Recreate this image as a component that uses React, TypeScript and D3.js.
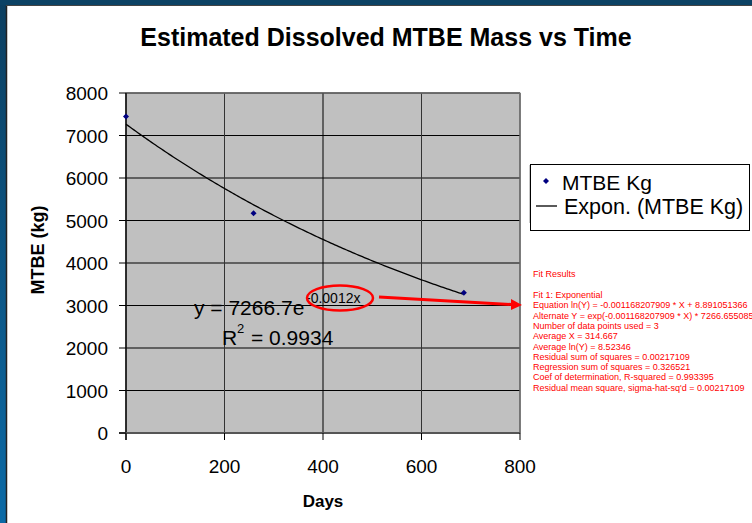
import React from "react";
import * as d3 from "d3";

const days = [0, 259, 686];
const mtbeKg = [7450, 5170, 3300];
const xTicks = [0, 200, 400, 600, 800];
const yTicks = [0, 1000, 2000, 3000, 4000, 5000, 6000, 7000, 8000];
const fitCoefA = 7266.655085;
const fitCoefB = -0.001168207909;
const fitLines = [
  "Fit 1: Exponential",
  "Equation ln(Y) = -0.001168207909 * X + 8.891051366",
  "Alternate Y = exp(-0.001168207909 * X) * 7266.655085",
  "Number of data points used = 3",
  "Average X = 314.667",
  "Average ln(Y) = 8.52346",
  "Residual sum of squares = 0.00217109",
  "Regression sum of squares = 0.326521",
  "Coef of determination, R-squared = 0.993395",
  "Residual mean square, sigma-hat-sq'd = 0.00217109",
];

const FONT = "'Liberation Sans', Arial, sans-serif";
const DIAMOND = "M0,-3L3,0L0,3L-3,0Z";

export default function App() {
  const W = 752, H = 523;
  const x = d3.scaleLinear().domain([0, 800]).range([126, 520]);
  const y = d3.scaleLinear().domain([0, 8000]).range([433, 93]);
  const pts = days.map((d, i) => ({ d, v: mtbeKg[i] }));
  const trendX = d3.range(0, 686 + 1, 4);
  const trend = d3
    .line<number>()
    .x((d) => x(d))
    .y((d) => y(fitCoefA * Math.exp(fitCoefB * d)))(trendX);

  return (
    <svg width={W} height={H} style={{ position: "absolute", left: 0, top: 0 }} fontFamily={FONT}>
      <defs>
        <linearGradient id="frameL" x1="0" y1="0" x2="0" y2="1">
          <stop offset="0" stopColor="#0c3f60" />
          <stop offset="1" stopColor="#0b6aa6" />
        </linearGradient>
      </defs>
      <rect x={0} y={0} width={W} height={H} fill="#ffffff" />
      <rect x={0} y={0} width={6} height={H} fill="url(#frameL)" />
      <rect x={0} y={0} width={W} height={5} fill="#0c4264" />
      <line x1={6.5} y1={5.5} x2={6.5} y2={H} stroke="#222" strokeWidth={1.5} />
      <line x1={6} y1={5.5} x2={W} y2={5.5} stroke="#444" strokeWidth={1} />

      <text x={386} y={46} textAnchor="middle" fontSize={25} fontWeight="bold" fill="#000">
        Estimated Dissolved MTBE Mass vs Time
      </text>

      {/* plot area */}
      <rect x={x(0)} y={y(8000)} width={x(800) - x(0)} height={y(0) - y(8000)} fill="#c0c0c0" stroke="#808080" strokeWidth={1} />
      {yTicks.map((t) => (
        <line key={"gy" + t} x1={x(0)} x2={x(800)} y1={y(t)} y2={y(t)} stroke="#000" strokeWidth={1} />
      ))}
      {xTicks.map((t) => (
        <line key={"gx" + t} x1={x(t)} x2={x(t)} y1={y(8000)} y2={y(0)} stroke={t === 400 ? "#000" : "#333"} strokeWidth={1} />
      ))}
      <line x1={x(800)} x2={x(800)} y1={y(8000)} y2={y(0)} stroke="#808080" />
      <line x1={x(0)} x2={x(800)} y1={y(8000)} y2={y(8000)} stroke="#808080" />
      {/* axes */}
      <line x1={x(0)} x2={x(0)} y1={y(8000)} y2={y(0) + 7} stroke="#000" strokeWidth={1.2} />
      <line x1={x(0) - 7} x2={x(800)} y1={y(0)} y2={y(0)} stroke="#555" strokeWidth={2} />
      {yTicks.map((t) => (
        <line key={"ty" + t} x1={x(0) - 7} x2={x(0)} y1={y(t)} y2={y(t)} stroke="#000" />
      ))}
      {xTicks.map((t) => (
        <line key={"tx" + t} x1={x(t)} x2={x(t)} y1={y(0)} y2={y(0) + 7} stroke="#000" />
      ))}
      {yTicks.map((t) => (
        <text key={"ly" + t} x={108} y={y(t) + 7} textAnchor="end" fontSize={19} fill="#000">
          {t}
        </text>
      ))}
      {xTicks.map((t) => (
        <text key={"lx" + t} x={x(t)} y={473} textAnchor="middle" fontSize={19} fill="#000">
          {t}
        </text>
      ))}
      <text x={323} y={507} textAnchor="middle" fontSize={17} fontWeight="bold" fill="#000">
        Days
      </text>
      <text transform={`translate(44,250) rotate(-90)`} textAnchor="middle" fontSize={18} fontWeight="bold" fill="#000">
        MTBE (kg)
      </text>

      {/* trendline */}
      <path d={trend ?? ""} fill="none" stroke="#000" strokeWidth={1.3} />
      {pts.map((p, i) => (
        <path key={"p" + i} d={DIAMOND} transform={`translate(${x(p.d)},${y(p.v)})`} fill="#000080" />
      ))}

      {/* equation */}
      <text x={194} y={315} fontSize={21} fill="#000">y = 7266.7e</text>
      <text x={306} y={303} fontSize={14} fill="#000">-0.0012x</text>
      <text x={222} y={345} fontSize={21} fill="#000">R</text>
      <text x={237} y={333} fontSize={13} fill="#000">2</text>
      <text x={251} y={345} fontSize={21} fill="#000">= 0.9934</text>

      {/* red annotation */}
      <ellipse cx={340} cy={298} rx={33} ry={12.5} fill="none" stroke="#ff0000" strokeWidth={2.5} />
      <line x1={379} y1={297} x2={512} y2={304.5} stroke="#ff0000" strokeWidth={3} />
      <path d="M511,299 L522,305 L511,310 Z" fill="#ff0000" />

      {/* legend */}
      <line x1={529.5} x2={529.5} y1={165} y2={223} stroke="#c8c8c8" />
      <rect x={530.5} y={164.5} width={219} height={66} fill="#ffffff" stroke="#000" strokeWidth={1} />
      <path d={DIAMOND} transform="translate(546,181)" fill="#000080" />
      <text x={562} y={190} fontSize={21} fill="#000">MTBE Kg</text>
      <line x1={536} x2={557} y1={206} y2={206} stroke="#000" strokeWidth={1.3} />
      <text x={564} y={214} fontSize={21.5} fill="#000">Expon. (MTBE Kg)</text>

      {/* fit results */}
      <text x={533} y={277} fontSize={9} fill="#ff0000">Fit Results</text>
      {fitLines.map((s, i) => (
        <text key={"f" + i} x={533} y={298 + i * 10.3} fontSize={9} fill="#ff0000">
          {s}
        </text>
      ))}
    </svg>
  );
}
